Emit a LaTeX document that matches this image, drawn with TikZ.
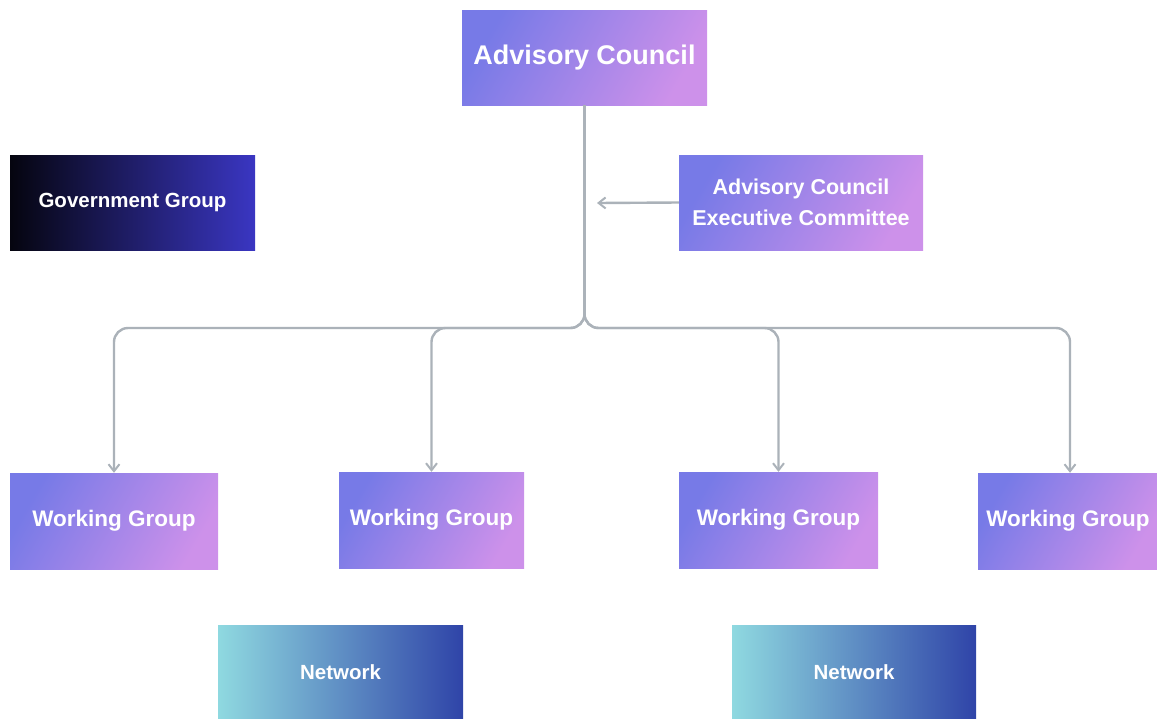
\documentclass[tikz,border=0pt]{standalone}
\usepackage{fontspec}
\setmainfont{Liberation Sans}
\usetikzlibrary{arrows.meta}
\definecolor{purpA}{HTML}{777AE7}
\definecolor{purpB}{HTML}{CD91EA}
\definecolor{govA}{HTML}{05050F}
\definecolor{govB}{HTML}{3A36C2}
\definecolor{netA}{HTML}{8FD9E0}
\definecolor{netB}{HTML}{2F44A8}
\definecolor{linkgray}{HTML}{ABB2B9}
\tikzset{
  box/.style={inner sep=0pt, align=center, text=white,
    font=\bfseries\fontsize{22.5}{30}\selectfont},
  purplebox/.style={box, left color=purpA, right color=purpB, shading angle=60},
  govbox/.style={box, left color=govA, right color=govB},
  netbox/.style={box, left color=netA, right color=netB},
  conn/.style={draw=linkgray, line width=2.4pt, rounded corners=14pt},
  tip/.style={-{Straight Barb[length=7pt,width=11pt,line width=2pt]}}
}
\begin{document}
\begin{tikzpicture}[x=1pt,y=-1pt]
\useasboundingbox (0,0) rectangle (1157,718);

% top level
\node[purplebox, minimum width=245pt, minimum height=95pt,
      font=\bfseries\fontsize{27}{32}\selectfont] (ac) at (584.5,57.5) {Advisory Council};
\node[govbox, minimum width=245pt, minimum height=95pt,
      font=\bfseries\fontsize{20.5}{24}\selectfont] (gov) at (132.5,202.5) {Government Group};
\node[purplebox, minimum width=244pt, minimum height=95pt,
      font=\bfseries\fontsize{21.5}{31}\selectfont] (exec) at (801,202.5) {Advisory Council\\Executive Committee};

% working groups
\node[purplebox, minimum width=208pt, minimum height=96pt] (wg1) at (114,521) {Working Group};
\node[purplebox, minimum width=185pt, minimum height=96pt] (wg2) at (431.5,520) {Working Group};
\node[purplebox, minimum width=199pt, minimum height=96pt] (wg3) at (778.5,520) {Working Group};
\node[purplebox, minimum width=180pt, minimum height=96pt] (wg4) at (1068,521) {Working Group};

% networks
\node[netbox, minimum width=245pt, minimum height=95pt,
      font=\bfseries\fontsize{20.5}{24}\selectfont] (net1) at (340.5,672.5) {Network};
\node[netbox, minimum width=244pt, minimum height=95pt,
      font=\bfseries\fontsize{20.5}{24}\selectfont] (net2) at (854,672.5) {Network};

% connectors
\coordinate (j) at (584.5,328);
\coordinate (m) at (597,203);
\draw[conn,tip] (ac.south) -- (j) -| (wg1.north);
\draw[conn,tip] (ac.south) -- (j) -| (wg2.north);
\draw[conn,tip] (ac.south) -- (j) -| (wg3.north);
\draw[conn,tip] (ac.south) -- (j) -| ([xshift=2pt]wg4.north);
\draw[conn,tip,rounded corners=0pt] (exec.west) -- (m);
\end{tikzpicture}
\end{document}
